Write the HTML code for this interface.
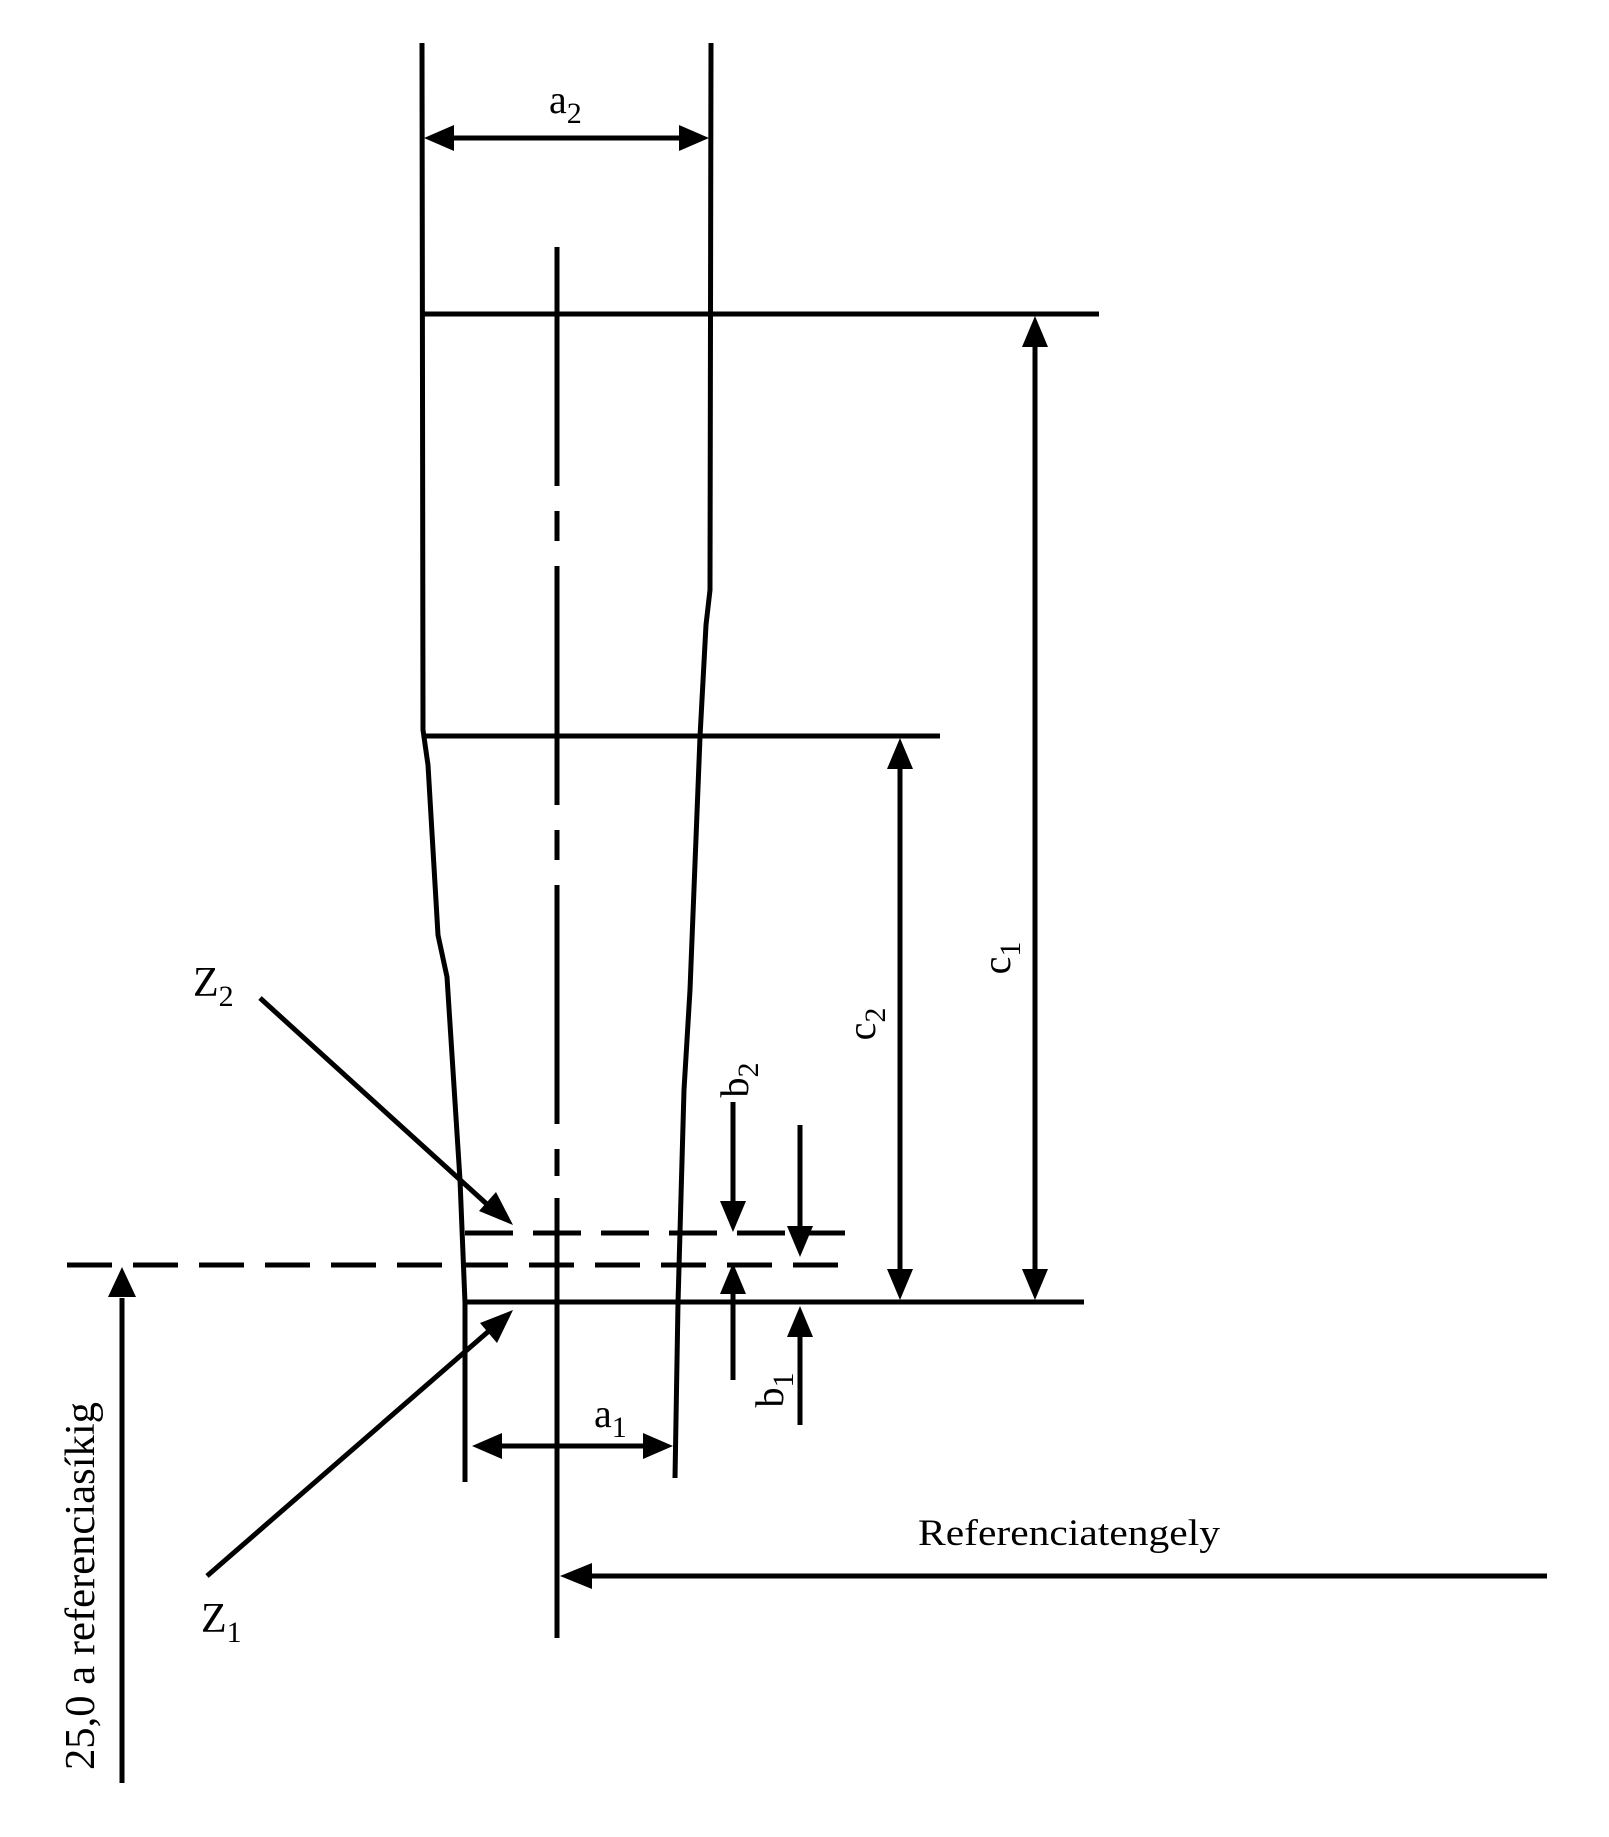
<!DOCTYPE html>
<html><head><meta charset="utf-8"><style>
html,body{margin:0;padding:0;background:#fff;}
svg{display:block}
text{font-family:"Liberation Serif",serif;fill:#000}
</style></head><body>
<svg width="1609" height="1837" viewBox="0 0 1609 1837" xmlns="http://www.w3.org/2000/svg">
<g stroke="#000" stroke-width="5" fill="none" stroke-linecap="butt">
<!-- walls -->
<polyline points="422,43 423,730 428,765 438,935 447,977 460,1180 465,1303 465,1482"/>
<polyline points="711,43 710,590 706,625 700,737 690,990 684,1090 678,1303 675,1478"/>
<!-- axis -->
<line x1="557" y1="247" x2="557" y2="1176" stroke-dasharray="239 25 30 25"/>
<line x1="557" y1="1198" x2="557" y2="1638"/>
<!-- horizontal lines -->
<line x1="420" y1="314" x2="1099" y2="314"/>
<line x1="424" y1="736" x2="940" y2="736"/>
<line x1="465" y1="1302" x2="1084" y2="1302"/>
<!-- dashed -->
<line x1="465" y1="1233" x2="845" y2="1233" stroke-dasharray="48 20"/>
<line x1="67" y1="1265" x2="845" y2="1265" stroke-dasharray="45 21"/>
<!-- a2 -->
<line x1="450" y1="138" x2="683" y2="138"/>
<!-- c1 c2 -->
<line x1="1035" y1="345" x2="1035" y2="1270"/>
<line x1="900" y1="767" x2="900" y2="1270"/>
<!-- b arrows -->
<line x1="733" y1="1102" x2="733" y2="1205"/>
<line x1="800" y1="1125" x2="800" y2="1230"/>
<line x1="733" y1="1290" x2="733" y2="1380"/>
<line x1="800" y1="1335" x2="800" y2="1425"/>
<!-- a1 -->
<line x1="500" y1="1446" x2="645" y2="1446"/>
<!-- reference axis arrow -->
<line x1="590" y1="1576" x2="1547" y2="1576"/>
<!-- left vertical -->
<line x1="122" y1="1298" x2="122" y2="1783"/>
<!-- Z arrows -->
<line x1="260" y1="998" x2="490" y2="1207"/>
<line x1="207" y1="1576" x2="490" y2="1330"/>
</g>
<g fill="#000">
<polygon points="424,138 454,125 454,151"/>
<polygon points="709,138 679,125 679,151"/>
<polygon points="1035,316 1022,347 1048,347"/>
<polygon points="1035,1300 1022,1269 1048,1269"/>
<polygon points="900,738 887,769 913,769"/>
<polygon points="900,1300 887,1269 913,1269"/>
<polygon points="733,1232 720,1201 746,1201"/>
<polygon points="800,1257 787,1226 813,1226"/>
<polygon points="733,1263 720,1294 746,1294"/>
<polygon points="800,1306 787,1337 813,1337"/>
<polygon points="472,1446 502,1433 502,1459"/>
<polygon points="673,1446 643,1433 643,1459"/>
<polygon points="560,1576 592,1563 592,1589"/>
<polygon points="122,1267 108,1297 136,1297"/>
<polygon points="513,1225 479,1211 496,1192"/>
<polygon points="513,1310 497,1343 480,1323"/>
</g>
<text x="549" y="113" font-size="40">a<tspan font-size="30" dy="10">2</tspan></text>
<text x="594" y="1427" font-size="40">a<tspan font-size="30" dy="10">1</tspan></text>
<text x="193" y="996" font-size="42">Z<tspan font-size="30" dy="10">2</tspan></text>
<text x="201" y="1632" font-size="42">Z<tspan font-size="30" dy="10">1</tspan></text>
<text transform="translate(1010,958) rotate(-90)" font-size="40" text-anchor="middle">c<tspan font-size="30" dy="10">1</tspan></text>
<text transform="translate(875,1024) rotate(-90)" font-size="40" text-anchor="middle">c<tspan font-size="30" dy="10">2</tspan></text>
<text transform="translate(748,1080) rotate(-90)" font-size="40" text-anchor="middle">b<tspan font-size="30" dy="10">2</tspan></text>
<text transform="translate(783,1390) rotate(-90)" font-size="40" text-anchor="middle">b<tspan font-size="30" dy="10">1</tspan></text>
<text x="918" y="1545" font-size="37" textLength="302" lengthAdjust="spacingAndGlyphs">Referenciatengely</text>
<text transform="translate(94,1770) rotate(-90)" font-size="42" textLength="368" lengthAdjust="spacingAndGlyphs">25,0  a referenciasíkig</text>
</svg>
</body></html>
